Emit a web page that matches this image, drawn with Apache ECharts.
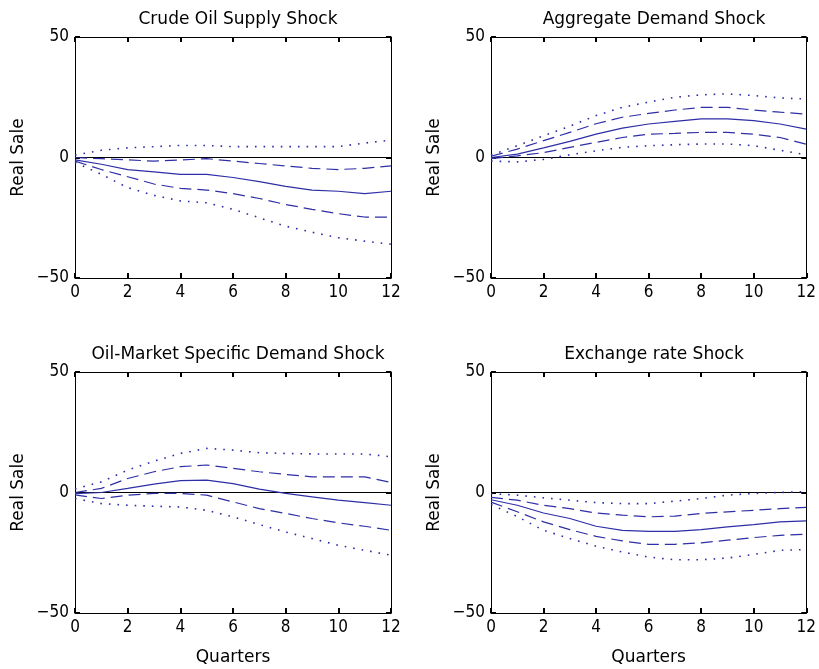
<!DOCTYPE html>
<html>
<head>
<meta charset="utf-8">
<script src="https://cdn.jsdelivr.net/npm/echarts@6/dist/echarts.min.js"></script>
<style>
  html, body { margin: 0; padding: 0; background: #fff; }
  #chart { width: 819px; height: 669px; }
</style>
</head>
<body>
<div id="chart"></div>
<script>
// Impulse responses of real sales, quarters 0..12: median with 68% (dashed) and 95% (dotted) bands
const quarters = [0, 1, 2, 3, 4, 5, 6, 7, 8, 9, 10, 11, 12];
const panelTitles = ['Crude Oil Supply Shock', 'Aggregate Demand Shock', 'Oil-Market Specific Demand Shock', 'Exchange rate Shock'];
const xTicks = [0, 2, 4, 6, 8, 10, 12];
const yTicks = [-50, 0, 50];

// Crude oil supply shock
const supplyMedian = [-1, -2.8, -5, -6, -7, -7, -8.3, -10, -12, -13.5, -14, -15, -14];
const supplyUpper68 = [0, -0.5, -1, -1.5, -1, -0.5, -1.5, -2.5, -3.5, -4.5, -5, -4.5, -3.5];
const supplyLower68 = [-1.5, -5, -8, -11, -12.8, -13.5, -15, -17, -19.5, -21.5, -23.3, -24.7, -24.7];
const supplyUpper95 = [1, 3, 4, 4.5, 5, 5, 4.5, 4.5, 4.5, 4.5, 4.5, 6, 7.2];
const supplyLower95 = [-2, -7, -12.5, -15.7, -18, -18.8, -21.5, -25, -28.5, -31, -33.3, -34.7, -36];

// Aggregate demand shock
const demandMedian = [0, 1.4, 4, 6.7, 9.7, 12.2, 13.9, 15, 16, 16, 15.3, 13.9, 11.8];
const demandUpper68 = [0.5, 3.5, 7, 10.4, 14, 16.7, 18.3, 19.7, 20.8, 20.8, 19.7, 18.8, 18];
const demandLower68 = [-0.5, 0.7, 2, 4.2, 6.3, 8.3, 9.7, 10, 10.4, 10.4, 9.7, 8.3, 5.5];
const demandUpper95 = [1, 4.9, 9, 13, 17.4, 20.8, 23, 25, 26, 26.4, 25.7, 24.7, 24.3];
const demandLower95 = [-1.5, -1.8, -0.8, 1.1, 2.8, 4.2, 4.9, 5.3, 5.6, 5.6, 4.9, 3, 1.1];

// Oil-market specific demand shock
const specificMedian = [-0.5, 0, 1.7, 3.5, 4.9, 5.1, 3.7, 1.4, -0.4, -1.8, -3.2, -4.2, -5.3];
const specificUpper68 = [0, 1.7, 5.8, 8.6, 10.7, 11.4, 10, 8.6, 7.5, 6.5, 6.5, 6.5, 4.2];
const specificLower68 = [-1, -2.5, -1.1, -0.4, -0.4, -1.1, -3.9, -6.7, -8.7, -10.8, -12.6, -14, -15.7];
const specificUpper95 = [1.5, 4.4, 9.3, 13, 16.2, 18.3, 17.6, 16.5, 16.2, 16, 16, 16, 14.8];
const specificLower95 = [-2.5, -4.6, -5.3, -5.7, -6, -7.4, -10.1, -13.3, -16.4, -19.1, -21.9, -24, -26];

// Exchange rate shock
const fxMedian = [-3, -5.3, -8.5, -10.8, -14, -15.7, -16.1, -16.1, -15.4, -14.3, -13.3, -12.2, -11.8];
const fxUpper68 = [-2, -3.2, -5.3, -6.7, -8.5, -9.4, -10.1, -9.8, -8.7, -8, -7.4, -6.7, -6.2];
const fxLower68 = [-4, -8, -12.2, -15.4, -18.2, -20.1, -21.5, -21.5, -20.9, -19.8, -18.7, -17.8, -17.3];
const fxUpper95 = [-0.5, -1.1, -2.2, -3.2, -4.2, -4.6, -4.6, -3.6, -2.5, -1.1, -0.4, 0, 0.4];
const fxLower95 = [-5, -10, -15.7, -19.1, -22.3, -24.7, -26.8, -27.9, -27.9, -27.2, -25.7, -24, -23.7];

const panels = [
  [supplyMedian, supplyUpper68, supplyLower68, supplyUpper95, supplyLower95],
  [demandMedian, demandUpper68, demandLower68, demandUpper95, demandLower95],
  [specificMedian, specificUpper68, specificLower68, specificUpper95, specificLower95],
  [fxMedian, fxUpper68, fxLower68, fxUpper95, fxLower95]
];

const numFont = "'DejaVu Sans Condensed', 'DejaVu Sans', sans-serif";
const textFont = "'DejaVu Sans', sans-serif";
const lineBlue = '#2e2ea6';

// axis ranges come from the tick lists
const xRange = { min: xTicks[0], max: xTicks[xTicks.length - 1], interval: xTicks[1] - xTicks[0] };
const yRange = { min: yTicks[0], max: yTicks[yTicks.length - 1], interval: yTicks[1] - yTicks[0] };

const grids = [
  { left: 75, top: 37, width: 316, height: 241 },
  { left: 491, top: 37, width: 316, height: 241 },
  { left: 75, top: 372, width: 316, height: 241 },
  { left: 491, top: 372, width: 316, height: 241 }
];

const option = {
  animation: false,
  backgroundColor: '#ffffff',
  title: [],
  grid: [],
  xAxis: [],
  yAxis: [],
  series: []
};

const pairs = v => quarters.map((q, i) => [q, v[i]]);
const styles = [
  { type: 'solid', width: 1.2 },
  { type: [12, 6], width: 1.2 },
  { type: [12, 6], width: 1.2 },
  { type: [1.6, 7], width: 1.6 },
  { type: [1.6, 7], width: 1.6 }
];

// inward box ticks
const tick = () => ({ show: true, inside: true, length: 5, lineStyle: { color: '#000', width: 2 } });
const boxLine = () => ({ show: true, onZero: false, lineStyle: { color: '#000', width: 1 } });

grids.forEach((g, k) => {
  option.grid.push(Object.assign({}, g));
  option.title.push({
    text: panelTitles[k],
    left: g.left + g.width / 2,
    textAlign: 'center',
    top: g.top - 31,
    textStyle: { fontFamily: textFont, fontSize: 17, fontWeight: 'normal', color: '#000' }
  });
  const bottomRow = k >= 2;
  // bottom x axis with labels
  option.xAxis.push(Object.assign({
    type: 'value', gridIndex: k, position: 'bottom',
    name: bottomRow ? 'Quarters' : '', nameLocation: 'middle', nameGap: 36,
    nameTextStyle: { fontFamily: textFont, fontSize: 17, color: '#000' },
    axisLine: boxLine(),
    axisTick: tick(),
    axisLabel: { show: true, margin: 6, fontFamily: numFont, fontSize: 17, color: '#000' },
    splitLine: { show: false }
  }, xRange));
  // top x axis carrying the inward ticks of the box
  option.xAxis.push(Object.assign({
    type: 'value', gridIndex: k, position: 'top',
    axisLine: boxLine(),
    axisTick: tick(),
    axisLabel: { show: false },
    splitLine: { show: false }
  }, xRange));
  option.yAxis.push(Object.assign({
    type: 'value', gridIndex: k, position: 'left',
    name: 'Real Sale', nameLocation: 'middle', nameGap: 48, nameRotate: 90,
    nameTextStyle: { fontFamily: textFont, fontSize: 17, color: '#000' },
    axisLine: boxLine(),
    axisTick: tick(),
    axisLabel: { show: true, margin: 6, fontFamily: numFont, fontSize: 17, color: '#000',
      formatter: v => (v < 0 ? '\u2212' + Math.abs(v) : String(v)) },
    splitLine: { show: false }
  }, yRange));
  option.yAxis.push(Object.assign({
    type: 'value', gridIndex: k, position: 'right',
    axisLine: boxLine(),
    axisTick: tick(),
    axisLabel: { show: false },
    splitLine: { show: false }
  }, yRange));

  panels[k].forEach((vals, j) => {
    const s = {
      type: 'line', xAxisIndex: 2 * k, yAxisIndex: 2 * k,
      data: pairs(vals), showSymbol: false, symbol: 'none', silent: true,
      lineStyle: { color: lineBlue, width: styles[j].width, type: styles[j].type, cap: 'butt' },
      z: 3
    };
    if (j === 0) {
      // solid zero reference line
      s.markLine = {
        silent: true, symbol: 'none', label: { show: false },
        lineStyle: { color: '#000', type: 'solid', width: 1.2 },
        data: [{ yAxis: 0 }],
        z: 2
      };
    }
    option.series.push(s);
  });
});

const chart = echarts.init(document.getElementById('chart'), null, { renderer: 'canvas' });
chart.setOption(option);
</script>
</body>
</html>
